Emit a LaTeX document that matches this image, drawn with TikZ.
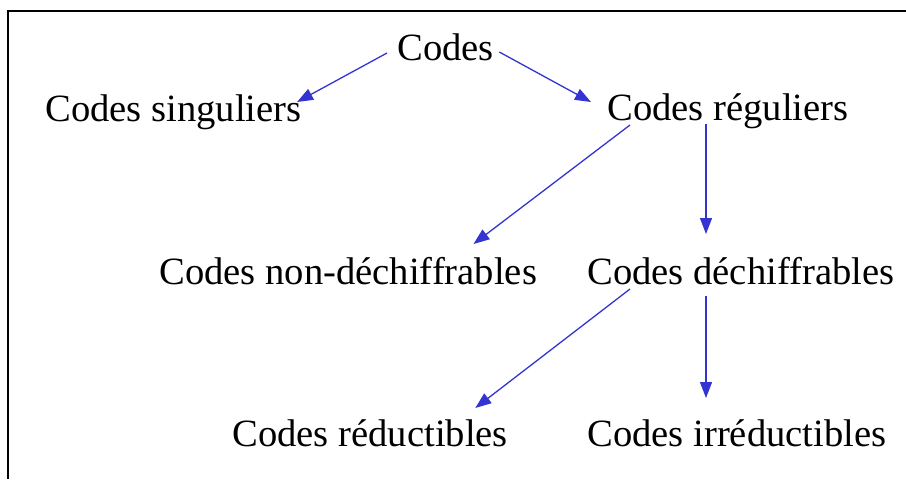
\documentclass[tikz,border=0pt]{standalone}
\usepackage{fontspec}
\setmainfont{Liberation Serif}
\usetikzlibrary{arrows.meta}

\definecolor{arrowblue}{RGB}{52,52,210}

\tikzset{
  lbl/.style={inner sep=0pt, anchor=base west, font=\fontsize{19.3}{23}\selectfont},
  link/.style={arrowblue, line width=0.65pt, -{Triangle[length=8pt,width=6pt]}}
}

\begin{document}
\begin{tikzpicture}[x=0.5pt, y=-0.5pt]
\useasboundingbox (0,0) rectangle (906,479);
\draw[line width=1.2pt] (906,11) -- (8,11) -- (8,479);

\node[lbl] (codes) at (397,60) {Codes};
\node[lbl] (sing) at (45,121) {Codes singuliers};
\node[lbl] (reg) at (607,120) {Codes réguliers};

\node[lbl] (nondech) at (159,284) {Codes non-déchiffrables};
\node[lbl] (dech) at (587,284) {Codes déchiffrables};

\node[lbl] (reduc) at (232,446) {Codes réductibles};
\node[lbl] (irred) at (587,446) {Codes irréductibles};

\draw[link] ([shift={(-10,-7)}]codes.base west) -- ([shift={(-5,-19)}]sing.base east);
\draw[link] ([shift={(5,-8)}]codes.base east) -- ([shift={(-16,-18)}]reg.base west);

\draw[link] ([shift={(23,5)}]reg.base west) -- ([shift={(-64,-40)}]nondech.base east);
\draw[link] ([shift={(99,4)}]reg.base west) -- ([shift={(119,-50)}]dech.base west);

\draw[link] ([shift={(43,5)}]dech.base west) -- ([shift={(-33,-38)}]reduc.base east);
\draw[link] ([shift={(119,12)}]dech.base west) -- ([shift={(119,-48)}]irred.base west);

\end{tikzpicture}
\end{document}
